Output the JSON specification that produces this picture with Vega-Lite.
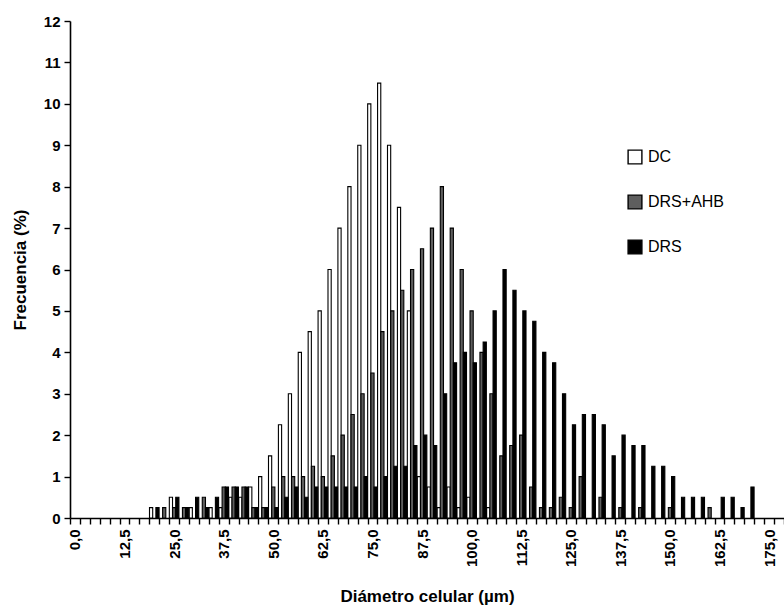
{
  "$schema": "https://vega.github.io/schema/vega-lite/v6.json",
  "width": 714,
  "height": 497,
  "autosize": {"type": "none"},
  "padding": {"left": 70, "top": 21, "right": 0, "bottom": 90},
  "background": "white",
  "data": {
    "values": [
      {"d": 20, "s": "DC", "f": 0.25},
      {"d": 25, "s": "DC", "f": 0.5},
      {"d": 30, "s": "DC", "f": 0.25},
      {"d": 35, "s": "DC", "f": 0.25},
      {"d": 37.5, "s": "DC", "f": 0.25},
      {"d": 40, "s": "DC", "f": 0.5},
      {"d": 42.5, "s": "DC", "f": 0.5},
      {"d": 45, "s": "DC", "f": 0.75},
      {"d": 47.5, "s": "DC", "f": 1.0},
      {"d": 50, "s": "DC", "f": 1.5},
      {"d": 52.5, "s": "DC", "f": 2.25},
      {"d": 55, "s": "DC", "f": 3.0},
      {"d": 57.5, "s": "DC", "f": 4.0},
      {"d": 60, "s": "DC", "f": 4.5},
      {"d": 62.5, "s": "DC", "f": 5.0},
      {"d": 65, "s": "DC", "f": 6.0},
      {"d": 67.5, "s": "DC", "f": 7.0},
      {"d": 70, "s": "DC", "f": 8.0},
      {"d": 72.5, "s": "DC", "f": 9.0},
      {"d": 75, "s": "DC", "f": 10.0},
      {"d": 77.5, "s": "DC", "f": 10.5},
      {"d": 80, "s": "DC", "f": 9.0},
      {"d": 82.5, "s": "DC", "f": 7.5},
      {"d": 85, "s": "DC", "f": 5.0},
      {"d": 87.5, "s": "DC", "f": 1.0},
      {"d": 90, "s": "DC", "f": 0.75},
      {"d": 92.5, "s": "DC", "f": 0.25},
      {"d": 95, "s": "DC", "f": 0.75},
      {"d": 97.5, "s": "DC", "f": 0.25},
      {"d": 100, "s": "DC", "f": 0.5},
      {"d": 105, "s": "DC", "f": 0.25},

      {"d": 22.5, "s": "DRS+AHB", "f": 0.25},
      {"d": 25, "s": "DRS+AHB", "f": 0.25},
      {"d": 27.5, "s": "DRS+AHB", "f": 0.25},
      {"d": 32.5, "s": "DRS+AHB", "f": 0.5},
      {"d": 37.5, "s": "DRS+AHB", "f": 0.75},
      {"d": 40, "s": "DRS+AHB", "f": 0.75},
      {"d": 42.5, "s": "DRS+AHB", "f": 0.75},
      {"d": 45, "s": "DRS+AHB", "f": 0.25},
      {"d": 47.5, "s": "DRS+AHB", "f": 0.25},
      {"d": 50, "s": "DRS+AHB", "f": 0.75},
      {"d": 52.5, "s": "DRS+AHB", "f": 1.0},
      {"d": 55, "s": "DRS+AHB", "f": 1.0},
      {"d": 57.5, "s": "DRS+AHB", "f": 1.0},
      {"d": 60, "s": "DRS+AHB", "f": 1.25},
      {"d": 62.5, "s": "DRS+AHB", "f": 1.0},
      {"d": 65, "s": "DRS+AHB", "f": 1.5},
      {"d": 67.5, "s": "DRS+AHB", "f": 2.0},
      {"d": 70, "s": "DRS+AHB", "f": 2.5},
      {"d": 72.5, "s": "DRS+AHB", "f": 3.0},
      {"d": 75, "s": "DRS+AHB", "f": 3.5},
      {"d": 77.5, "s": "DRS+AHB", "f": 4.5},
      {"d": 80, "s": "DRS+AHB", "f": 5.0},
      {"d": 82.5, "s": "DRS+AHB", "f": 5.5},
      {"d": 85, "s": "DRS+AHB", "f": 6.0},
      {"d": 87.5, "s": "DRS+AHB", "f": 6.5},
      {"d": 90, "s": "DRS+AHB", "f": 7.0},
      {"d": 92.5, "s": "DRS+AHB", "f": 8.0},
      {"d": 95, "s": "DRS+AHB", "f": 7.0},
      {"d": 97.5, "s": "DRS+AHB", "f": 6.0},
      {"d": 100, "s": "DRS+AHB", "f": 5.0},
      {"d": 102.5, "s": "DRS+AHB", "f": 4.0},
      {"d": 105, "s": "DRS+AHB", "f": 3.0},
      {"d": 107.5, "s": "DRS+AHB", "f": 1.5},
      {"d": 110, "s": "DRS+AHB", "f": 1.75},
      {"d": 112.5, "s": "DRS+AHB", "f": 2.0},
      {"d": 115, "s": "DRS+AHB", "f": 0.75},
      {"d": 117.5, "s": "DRS+AHB", "f": 0.25},
      {"d": 120, "s": "DRS+AHB", "f": 0.25},
      {"d": 122.5, "s": "DRS+AHB", "f": 0.5},
      {"d": 125, "s": "DRS+AHB", "f": 0.25},
      {"d": 127.5, "s": "DRS+AHB", "f": 1.0},
      {"d": 132.5, "s": "DRS+AHB", "f": 0.5},
      {"d": 137.5, "s": "DRS+AHB", "f": 0.25},
      {"d": 142.5, "s": "DRS+AHB", "f": 0.25},
      {"d": 150, "s": "DRS+AHB", "f": 0.25},
      {"d": 160, "s": "DRS+AHB", "f": 0.25},

      {"d": 20, "s": "DRS", "f": 0.25},
      {"d": 25, "s": "DRS", "f": 0.5},
      {"d": 27.5, "s": "DRS", "f": 0.25},
      {"d": 30, "s": "DRS", "f": 0.5},
      {"d": 32.5, "s": "DRS", "f": 0.25},
      {"d": 35, "s": "DRS", "f": 0.5},
      {"d": 37.5, "s": "DRS", "f": 0.75},
      {"d": 40, "s": "DRS", "f": 0.75},
      {"d": 42.5, "s": "DRS", "f": 0.75},
      {"d": 45, "s": "DRS", "f": 0.25},
      {"d": 47.5, "s": "DRS", "f": 0.25},
      {"d": 50, "s": "DRS", "f": 0.25},
      {"d": 52.5, "s": "DRS", "f": 0.5},
      {"d": 55, "s": "DRS", "f": 0.75},
      {"d": 57.5, "s": "DRS", "f": 0.5},
      {"d": 60, "s": "DRS", "f": 0.75},
      {"d": 62.5, "s": "DRS", "f": 0.75},
      {"d": 65, "s": "DRS", "f": 0.75},
      {"d": 67.5, "s": "DRS", "f": 0.75},
      {"d": 70, "s": "DRS", "f": 0.75},
      {"d": 72.5, "s": "DRS", "f": 1.0},
      {"d": 75, "s": "DRS", "f": 0.75},
      {"d": 77.5, "s": "DRS", "f": 1.0},
      {"d": 80, "s": "DRS", "f": 1.25},
      {"d": 82.5, "s": "DRS", "f": 1.25},
      {"d": 85, "s": "DRS", "f": 1.75},
      {"d": 87.5, "s": "DRS", "f": 2.0},
      {"d": 90, "s": "DRS", "f": 1.75},
      {"d": 92.5, "s": "DRS", "f": 3.0},
      {"d": 95, "s": "DRS", "f": 3.75},
      {"d": 97.5, "s": "DRS", "f": 4.0},
      {"d": 100, "s": "DRS", "f": 3.75},
      {"d": 102.5, "s": "DRS", "f": 4.25},
      {"d": 105, "s": "DRS", "f": 5.0},
      {"d": 107.5, "s": "DRS", "f": 6.0},
      {"d": 110, "s": "DRS", "f": 5.5},
      {"d": 112.5, "s": "DRS", "f": 5.0},
      {"d": 115, "s": "DRS", "f": 4.75},
      {"d": 117.5, "s": "DRS", "f": 4.0},
      {"d": 120, "s": "DRS", "f": 3.75},
      {"d": 122.5, "s": "DRS", "f": 3.0},
      {"d": 125, "s": "DRS", "f": 2.25},
      {"d": 127.5, "s": "DRS", "f": 2.5},
      {"d": 130, "s": "DRS", "f": 2.5},
      {"d": 132.5, "s": "DRS", "f": 2.25},
      {"d": 135, "s": "DRS", "f": 1.5},
      {"d": 137.5, "s": "DRS", "f": 2.0},
      {"d": 140, "s": "DRS", "f": 1.75},
      {"d": 142.5, "s": "DRS", "f": 1.75},
      {"d": 145, "s": "DRS", "f": 1.25},
      {"d": 147.5, "s": "DRS", "f": 1.25},
      {"d": 150, "s": "DRS", "f": 1.0},
      {"d": 152.5, "s": "DRS", "f": 0.5},
      {"d": 155, "s": "DRS", "f": 0.5},
      {"d": 157.5, "s": "DRS", "f": 0.5},
      {"d": 162.5, "s": "DRS", "f": 0.5},
      {"d": 165, "s": "DRS", "f": 0.5},
      {"d": 167.5, "s": "DRS", "f": 0.25},
      {"d": 170, "s": "DRS", "f": 0.75}
    ]
  },
  "mark": {"type": "bar", "stroke": "black", "strokeWidth": 1.1},
  "encoding": {
    "x": {
      "field": "d",
      "type": "ordinal",
      "scale": {
        "type": "band",
        "paddingInner": 0,
        "paddingOuter": 0,
        "domain": [0, 2.5, 5, 7.5, 10, 12.5, 15, 17.5, 20, 22.5, 25, 27.5, 30, 32.5, 35, 37.5, 40, 42.5, 45, 47.5, 50, 52.5, 55, 57.5, 60, 62.5, 65, 67.5, 70, 72.5, 75, 77.5, 80, 82.5, 85, 87.5, 90, 92.5, 95, 97.5, 100, 102.5, 105, 107.5, 110, 112.5, 115, 117.5, 120, 122.5, 125, 127.5, 130, 132.5, 135, 137.5, 140, 142.5, 145, 147.5, 150, 152.5, 155, 157.5, 160, 162.5, 165, 167.5, 170, 172.5, 175, 177.5]
      },
      "axis": {
        "title": "Diámetro celular (µm)",
        "labelAngle": 270,
        "labelExpr": "datum.value % 12.5 === 0 ? replace(format(datum.value, '.1f'), '.', ',') : ''",
        "labelOverlap": false,
        "tickBand": "extent",
        "tickSize": 6,
        "labelPadding": 5,
        "titlePadding": 22
      }
    },
    "xOffset": {
      "field": "s",
      "type": "nominal",
      "sort": ["DC", "DRS+AHB", "DRS"],
      "scale": {"paddingInner": 0, "paddingOuter": 0.05}
    },
    "y": {
      "field": "f",
      "type": "quantitative",
      "scale": {"domain": [0, 12]},
      "axis": {
        "title": "Frecuencia (%)",
        "values": [0, 1, 2, 3, 4, 5, 6, 7, 8, 9, 10, 11, 12],
        "grid": false,
        "tickSize": 6,
        "labelPadding": 4,
        "titlePadding": 14
      }
    },
    "fill": {
      "field": "s",
      "type": "nominal",
      "sort": ["DC", "DRS+AHB", "DRS"],
      "scale": {"domain": ["DC", "DRS+AHB", "DRS"], "range": ["#ffffff", "#5e5e5e", "#000000"]},
      "legend": {
        "title": null,
        "orient": "none",
        "legendX": 557,
        "legendY": 128,
        "direction": "vertical",
        "symbolType": "square",
        "symbolSize": 190,
        "symbolStrokeColor": "black",
        "symbolStrokeWidth": 1.4,
        "symbolOpacity": 1,
        "labelFontSize": 16,
        "labelFont": "Liberation Sans",
        "labelColor": "black",
        "labelOffset": 5,
        "rowPadding": 25
      }
    }
  },
  "config": {
    "view": {"stroke": null},
    "font": "Liberation Sans",
    "axis": {
      "domainColor": "black",
      "domainWidth": 1.6,
      "tickColor": "black",
      "tickWidth": 1.4,
      "labelColor": "black",
      "labelFont": "Liberation Sans",
      "labelFontSize": 15,
      "labelFontWeight": "bold",
      "titleColor": "black",
      "titleFont": "Liberation Sans",
      "titleFontSize": 17,
      "titleFontWeight": "bold",
      "grid": false
    }
  }
}
